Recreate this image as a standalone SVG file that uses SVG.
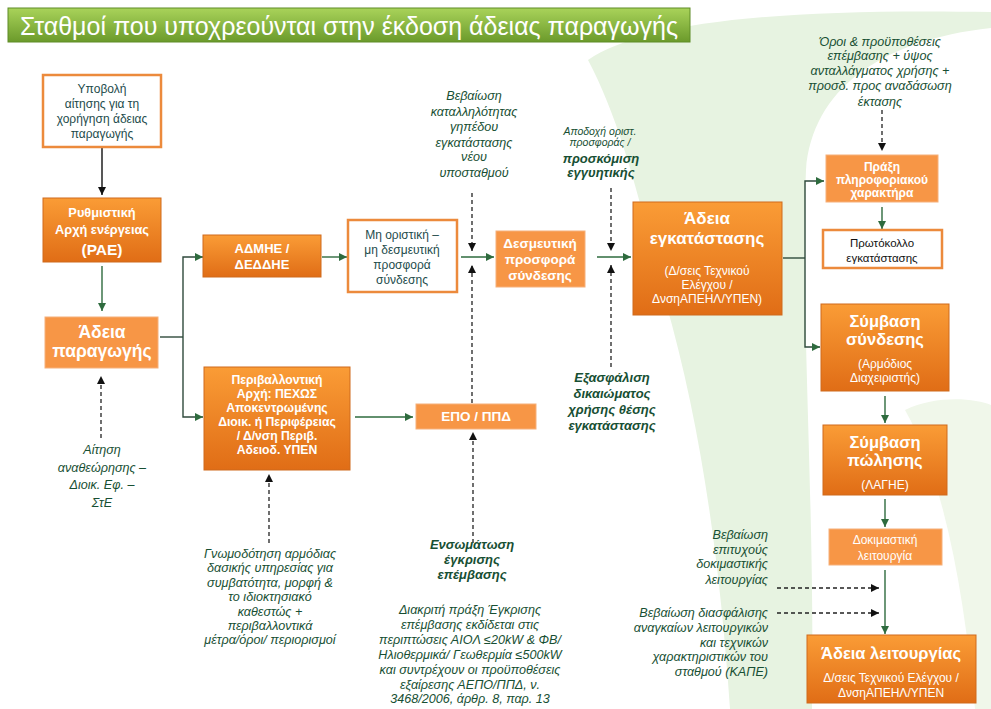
<svg xmlns="http://www.w3.org/2000/svg" width="991" height="709" viewBox="0 0 991 709">
<style>
.bx{fill:url(#og);stroke:#cf6a1c;stroke-width:1}
.fl{fill:#f79646;stroke:#f6b07a;stroke-width:1}
.wb{fill:#fff;stroke:#ec8a3c;stroke-width:2.5}
.tw{font-family:"Liberation Sans",Arial,sans-serif;fill:#fff;font-weight:bold;text-anchor:middle}
.tr{font-family:"Liberation Sans",Arial,sans-serif;fill:#fff;text-anchor:middle}
.td{font-family:"Liberation Sans",Arial,sans-serif;fill:#1d4b4b;text-anchor:middle}
.it{font-family:"Liberation Sans",Arial,sans-serif;fill:#174f33;font-style:italic;font-size:12.6px;text-anchor:middle}
.bi{font-family:"Liberation Sans",Arial,sans-serif;fill:#174f33;font-style:italic;font-weight:bold;font-size:13px;text-anchor:middle}
.g{fill:none;stroke:#2e6b3e;stroke-width:1.4;marker-end:url(#ag)}
.k{fill:none;stroke:#111;stroke-width:1.4;marker-end:url(#ak)}
.kl{fill:none;stroke:#2f4a3c;stroke-width:1.4}
.gl{fill:none;stroke:#2f4a3c;stroke-width:1.4;marker-end:url(#ag)}
.d{fill:none;stroke:#222;stroke-width:1.3;stroke-dasharray:4,3;marker-end:url(#ak)}
</style>
<defs>
<linearGradient id="og" x1="0" y1="0" x2="0" y2="1">
<stop offset="0" stop-color="#fa9c36"/>
<stop offset="1" stop-color="#e06d16"/>
</linearGradient>
<linearGradient id="tg" x1="0" y1="0" x2="0" y2="1">
<stop offset="0" stop-color="#a9d35a"/>
<stop offset="1" stop-color="#6b9a2b"/>
</linearGradient>
<marker id="ag" viewBox="0 0 10 10" refX="10" refY="5" markerWidth="8" markerHeight="8" markerUnits="userSpaceOnUse" orient="auto">
<path d="M0,0 L10,5 L0,10 z" fill="#2e6b3e"/>
</marker>
<marker id="ak" viewBox="0 0 10 10" refX="10" refY="5" markerWidth="8" markerHeight="8" markerUnits="userSpaceOnUse" orient="auto">
<path d="M0,0 L10,5 L0,10 z" fill="#111"/>
</marker>
</defs>
<rect width="991" height="709" fill="#fff"/>
<path d="M588,60 C640,25 760,8 991,12 L991,28 C880,40 812,90 806,170 C800,300 815,500 812,709 L730,709 C720,560 700,420 665,300 C640,200 620,120 588,60 Z" fill="#e7f3e1"/>
<path d="M905,410 C935,395 975,398 991,405 L991,709 L975,709 C965,600 945,480 905,410 Z" fill="#f0f7ea"/>

<g id="title">
<rect x="8" y="8" width="682" height="34" fill="url(#tg)" stroke="#5f8c26" stroke-width="1"/>
<text x="20" y="34.5" font-family="'Liberation Sans',Arial,sans-serif" font-size="25" fill="#fff" textLength="658" lengthAdjust="spacingAndGlyphs">Σταθμοί που υποχρεούνται στην έκδοση άδειας παραγωγής</text>
</g>

<g id="connectors">
<path class="k" d="M102,148 V195"/>
<path class="g" d="M102,266 V311"/>
<path class="kl" d="M160,337 H183"/>
<path class="gl" d="M183,337 V257 H203"/>
<path class="gl" d="M183,337 V417 H203"/>
<path class="g" d="M322,257 H347"/>
<path class="g" d="M461,257 H494"/>
<path class="g" d="M597,257 H631"/>
<path class="g" d="M355,417 H413"/>
<path class="kl" d="M783,258 H805"/>
<path class="gl" d="M805,258 V181 H824"/>
<path class="gl" d="M805,258 V347 H820"/>
<path class="g" d="M882,207 V229"/>
<path class="g" d="M885,396 V423"/>
<path class="g" d="M885,499 V527"/>
<path class="g" d="M885,570 V634"/>
<path class="d" d="M101,438 V376"/>
<path class="d" d="M269,543 V474"/>
<path class="d" d="M472,193 V251"/>
<path class="d" d="M472,403 V265"/>
<path class="d" d="M473,543 V432"/>
<path class="d" d="M611,188 V251"/>
<path class="d" d="M611,367 V265"/>
<path class="d" d="M882,110 V151"/>
<path class="d" d="M777,588 H879"/>
<path class="d" d="M777,613 H879"/>
</g>

<g id="n-ypovoli">
<rect class="wb" x="43" y="75" width="118" height="72"/>
<text class="td" font-size="12"><tspan x="102" y="93">Υποβολή</tspan><tspan x="102" y="108">αίτησης για τη</tspan><tspan x="102" y="123">χορήγηση άδειας</tspan><tspan x="102" y="138">παραγωγής</tspan></text>
</g>
<g id="n-rae">
<rect class="bx" x="43" y="198" width="118" height="64"/>
<text class="tw" font-size="12.8"><tspan x="102" y="217">Ρυθμιστική</tspan><tspan x="102" y="234">Αρχή ενέργειας</tspan></text>
<text class="tw" font-size="15.5" x="102" y="255">(ΡΑΕ)</text>
</g>
<g id="n-adeia-paragogis">
<rect class="fl" x="45" y="317" width="113" height="51"/>
<text class="tw" font-size="17.5"><tspan x="102" y="338">Άδεια</tspan><tspan x="102" y="357">παραγωγής</tspan></text>
</g>
<g id="n-admie">
<rect class="bx" x="203" y="235" width="118" height="42"/>
<text class="tw" font-size="13"><tspan x="262" y="253">ΑΔΜΗΕ /</tspan><tspan x="262" y="269">ΔΕΔΔΗΕ</tspan></text>
</g>
<g id="n-perivallontiki">
<rect class="bx" x="204" y="367" width="146" height="103"/>
<text class="tw" font-size="12.2"><tspan x="277" y="384">Περιβαλλοντική</tspan><tspan x="277" y="398">Αρχή: ΠΕΧΩΣ</tspan><tspan x="277" y="412">Αποκεντρωμένης</tspan><tspan x="277" y="426">Διοικ. ή Περιφέρειας</tspan><tspan x="277" y="440">/ Δ/νση Περιβ.</tspan><tspan x="277" y="454">Αδειοδ. ΥΠΕΝ</tspan></text>
</g>
<g id="n-mi-oristiki">
<rect class="wb" x="348" y="220" width="109" height="72"/>
<text class="td" font-size="12"><tspan x="402" y="239">Μη οριστική –</tspan><tspan x="402" y="254">μη δεσμευτική</tspan><tspan x="402" y="269">προσφορά</tspan><tspan x="402" y="284">σύνδεσης</tspan></text>
</g>
<g id="n-desmeytiki">
<rect class="fl" x="496" y="231" width="89" height="56"/>
<text class="tw" font-size="13.5"><tspan x="540" y="248">Δεσμευτική</tspan><tspan x="540" y="264">προσφορά</tspan><tspan x="540" y="280">σύνδεσης</tspan></text>
</g>
<g id="n-epo">
<rect class="fl" x="416" y="404" width="120" height="25"/>
<text class="tw" font-size="13.5" x="476" y="421">ΕΠΟ / ΠΠΔ</text>
</g>
<g id="n-adeia-egkatastasis">
<rect class="bx" x="633" y="202" width="149" height="113"/>
<text class="tw" font-size="17"><tspan x="707" y="224">Άδεια</tspan><tspan x="707" y="244">εγκατάστασης</tspan></text>
<text class="tr" font-size="12"><tspan x="707" y="275">(Δ/σεις Τεχνικού</tspan><tspan x="707" y="289">Ελέγχου /</tspan><tspan x="707" y="303">ΔνσηΑΠΕΗΛ/ΥΠΕΝ)</tspan></text>
</g>
<g id="n-praxi">
<rect class="fl" x="826" y="155" width="112" height="47"/>
<text class="tw" font-size="12"><tspan x="882" y="171">Πράξη</tspan><tspan x="882" y="184">πληροφοριακού</tspan><tspan x="882" y="197">χαρακτήρα</tspan></text>
</g>
<g id="n-protokollo">
<rect class="wb" x="823" y="230" width="119" height="38"/>
<text class="td" font-size="11.5" style="fill:#111"><tspan x="882" y="247">Πρωτόκολλο</tspan><tspan x="882" y="262">εγκατάστασης</tspan></text>
</g>
<g id="n-symvasi-syndesis">
<rect class="bx" x="821" y="304" width="128" height="87"/>
<text class="tw" font-size="16.5"><tspan x="885" y="327">Σύμβαση</tspan><tspan x="885" y="345">σύνδεσης</tspan></text>
<text class="tr" font-size="12"><tspan x="885" y="368">(Αρμόδιος</tspan><tspan x="885" y="382">Διαχειριστής)</tspan></text>
</g>
<g id="n-symvasi-polisis">
<rect class="bx" x="823" y="425" width="124" height="70"/>
<text class="tw" font-size="16.5"><tspan x="885" y="448">Σύμβαση</tspan><tspan x="885" y="466">πώλησης</tspan></text>
<text class="tr" font-size="12" x="885" y="489">(ΛΑΓΗΕ)</text>
</g>
<g id="n-dokimastiki">
<rect class="fl" x="829" y="529" width="113" height="36"/>
<text class="tr" font-size="12"><tspan x="885" y="544">Δοκιμαστική</tspan><tspan x="885" y="560">λειτουργία</tspan></text>
</g>
<g id="n-adeia-leitourgias">
<rect class="bx" x="807" y="635" width="169" height="68"/>
<text class="tw" font-size="16.5" x="891" y="659">Άδεια λειτουργίας</text>
<text class="tr" font-size="12"><tspan x="891" y="682">Δ/σεις Τεχνικού Ελέγχου /</tspan><tspan x="891" y="697">ΔνσηΑΠΕΗΛ/ΥΠΕΝ</tspan></text>
</g>

<g id="notes">
<text class="it"><tspan x="102" y="454">Αίτηση</tspan><tspan x="102" y="472">αναθεώρησης –</tspan><tspan x="102" y="489">Διοικ. Εφ. –</tspan><tspan x="102" y="507">ΣτΕ</tspan></text>
<text class="it"><tspan x="270" y="558">Γνωμοδότηση αρμόδιας</tspan><tspan x="270" y="572">δασικής υπηρεσίας για</tspan><tspan x="270" y="587">συμβατότητα, μορφή &amp;</tspan><tspan x="270" y="601">το ιδιοκτησιακό</tspan><tspan x="270" y="616">καθεστώς +</tspan><tspan x="270" y="630">περιβαλλοντικά</tspan><tspan x="270" y="644">μέτρα/όροι/ περιορισμοί</tspan></text>
<text class="it"><tspan x="474" y="100">Βεβαίωση</tspan><tspan x="474" y="116">καταλληλότητας</tspan><tspan x="474" y="131">γηπέδου</tspan><tspan x="474" y="147">εγκατάστασης</tspan><tspan x="474" y="161">νέου</tspan><tspan x="474" y="177">υποσταθμού</tspan></text>
<text class="it" style="font-size:10.5px"><tspan x="600" y="135">Αποδοχή οριστ.</tspan><tspan x="600" y="146">προσφοράς /</tspan></text>
<text class="bi"><tspan x="601" y="163">προσκόμιση</tspan><tspan x="601" y="177">εγγυητικής</tspan></text>
<text class="bi"><tspan x="612" y="382">Εξασφάλιση</tspan><tspan x="612" y="398">δικαιώματος</tspan><tspan x="612" y="414">χρήσης θέσης</tspan><tspan x="612" y="430">εγκατάστασης</tspan></text>
<text class="bi"><tspan x="472" y="549">Ενσωμάτωση</tspan><tspan x="472" y="564">έγκρισης</tspan><tspan x="472" y="579">επέμβασης</tspan></text>
<text class="it"><tspan x="470" y="614">Διακριτή πράξη Έγκρισης</tspan><tspan x="470" y="629">επέμβασης εκδίδεται στις</tspan><tspan x="470" y="644">περιπτώσεις ΑΙΟΛ ≤20kW &amp; ΦΒ/</tspan><tspan x="470" y="659">Ηλιοθερμικά/ Γεωθερμία ≤500kW</tspan><tspan x="470" y="674">και συντρέχουν οι προϋποθέσεις</tspan><tspan x="470" y="689">εξαίρεσης ΑΕΠΟ/ΠΠΔ, ν.</tspan><tspan x="470" y="703">3468/2006, άρθρ. 8, παρ. 13</tspan></text>
<text class="it"><tspan x="880" y="46">Όροι &amp; προϋποθέσεις</tspan><tspan x="880" y="60">επέμβασης + ύψος</tspan><tspan x="880" y="75">ανταλλάγματος χρήσης +</tspan><tspan x="880" y="90">προσδ. προς αναδάσωση</tspan><tspan x="880" y="106">έκτασης</tspan></text>
<text class="it" style="text-anchor:end"><tspan x="768" y="539">Βεβαίωση</tspan><tspan x="768" y="554">επιτυχούς</tspan><tspan x="768" y="568">δοκιμαστικής</tspan><tspan x="768" y="584">λειτουργίας</tspan></text>
<text class="it" style="text-anchor:end"><tspan x="768" y="617">Βεβαίωση διασφάλισης</tspan><tspan x="768" y="632">αναγκαίων λειτουργικών</tspan><tspan x="768" y="647">και τεχνικών</tspan><tspan x="768" y="661">χαρακτηριστικών του</tspan><tspan x="768" y="676">σταθμού (ΚΑΠΕ)</tspan></text>
</g>
</svg>
